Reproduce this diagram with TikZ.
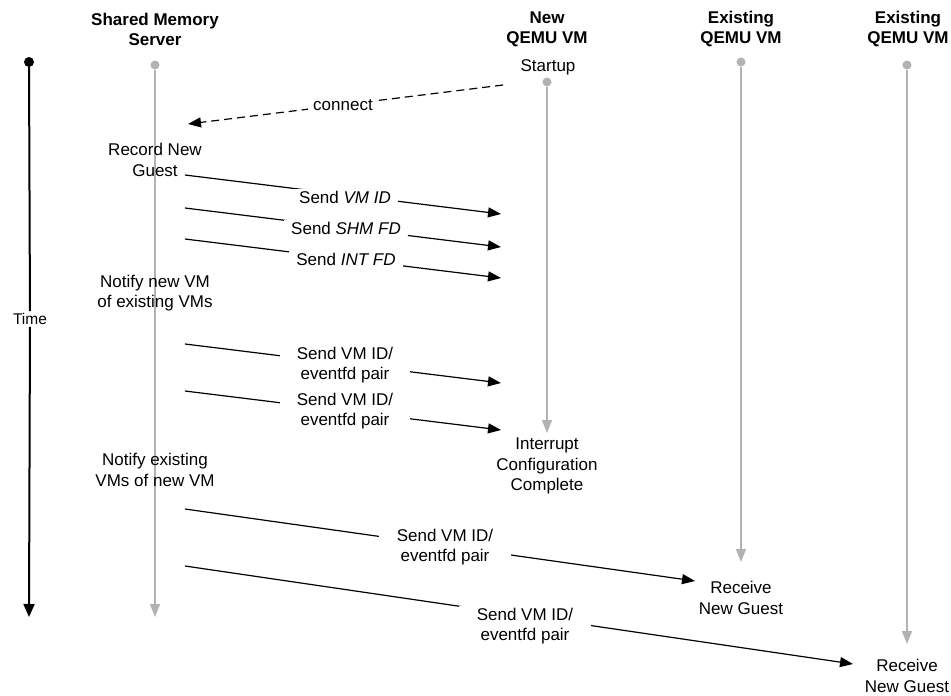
\documentclass[tikz,border=0pt]{standalone}
\usepackage{fontspec}
\setmainfont{Liberation Sans}
\usetikzlibrary{arrows.meta}

\definecolor{lifegray}{RGB}{178,178,178}

\begin{document}
\begin{tikzpicture}[x=1pt,y=-1pt,
  every node/.style={font=\fontsize{17}{20.5}\selectfont,align=center},
  hdr/.style={font=\fontsize{17}{20}\selectfont\bfseries},
  dot/.style={circle,fill=lifegray,minimum size=9pt,inner sep=0pt},
  life/.style={draw=lifegray,line width=1.5pt,-{Triangle[length=13pt,width=10pt]}},
  msg/.style={line width=1.2pt,-{Triangle[length=13pt,width=10pt]}},
  lbl/.style={fill=white,inner ysep=2pt}]
  \useasboundingbox (0,0) rectangle (951,696);

  % column heads
  \foreach \n/\x/\t in {srv/155/Shared Memory\\Server, newvm/547/New\\QEMU VM,
                        exa/741/Existing\\QEMU VM, exb/908/Existing\\QEMU VM}
    \node[hdr] (hd-\n) at (\x,29) {\t};

  % time axis
  \node[circle,fill=black,minimum size=10pt,inner sep=0pt] (t0) at (29,62) {};
  \node[fill=white,font=\fontsize{15.5}{18}\selectfont,inner sep=2pt] (time) at (30,319) {Time};
  \coordinate (t1) at (29,617);
  \draw[line width=2pt] (t0) -- (time);
  \draw[line width=2pt,-{Triangle[length=13pt,width=11pt]}] (time) -- (t1);

  % lifelines
  \foreach \n/\x/\ya/\yb in {srv/155/65/617, newvm/547/82/433, exa/741/62/562, exb/907/65/644} {
    \node[dot] (\n) at (\x,\ya) {};
    \coordinate (\n-end) at (\x,\yb);
    \draw[life] (\n) -- (\n-end);
  }

  % events
  \node (startup) at (548,67) {Startup};
  \node (rec) at (155,160) {Record New\\Guest};
  \node (notnew) at (155,293) {Notify new VM\\of existing VMs};
  \node (notold) at (155,470) {Notify existing\\VMs of new VM};
  \node (intdone) at (547,466) {Interrupt\\Configuration\\Complete};
  \node (recva) at (741,598) {Receive\\New Guest};
  \node (recvb) at (907,676) {Receive\\New Guest};

  % connect
  \coordinate (c-a) at (503,85);
  \coordinate (c-b) at (188,124);
  \draw[msg,dash pattern=on 8pt off 5pt] (c-a) -- (c-b);
  \node[lbl,inner xsep=5pt] (c-l) at (343,105) {connect};

  % messages from the server
  \foreach \n/\ys/\xt/\yt/\lx/\ly/\w/\t in {
      1/175/501/214/345/197/7/{Send \textit{VM ID}},
      2/208/501/247/346/228/7/{Send \textit{SHM FD}},
      3/239/501/278/346/259/7/{Send \textit{INT FD}},
      4/344/501/383/345/365/17/{Send VM ID/\\eventfd pair},
      5/391/501/430/345/411/17/{Send VM ID/\\eventfd pair},
      6/509/695/581/445/547/18/{Send VM ID/\\eventfd pair},
      7/566/853/664/525/626/18/{Send VM ID/\\eventfd pair}} {
    \coordinate (m\n-a) at (185,\ys);
    \coordinate (m\n-b) at (\xt,\yt);
    \draw[msg] (m\n-a) -- (m\n-b);
    \node[lbl,inner xsep=\w pt] (m\n-l) at (\lx,\ly) {\t};
  }
\end{tikzpicture}
\end{document}
